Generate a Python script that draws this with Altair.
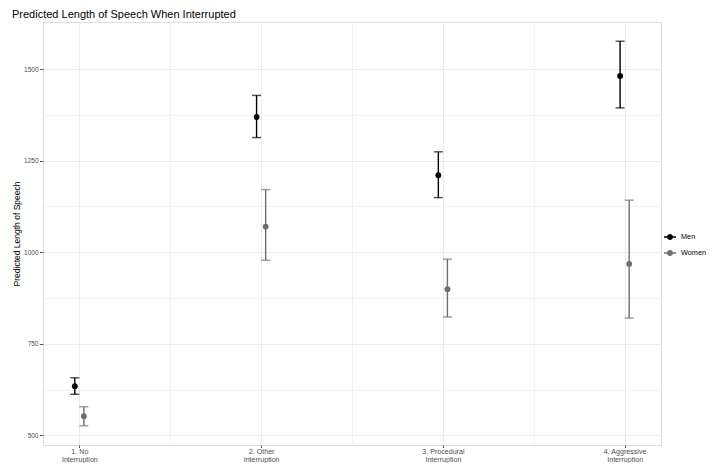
import json
import altair as alt
import pandas as pd

# ---- data ----
categories = ["1. No Interruption", "2. Other Interruption",
              "3. Procedural Interruption", "4. Aggressive Interruption"]
groups = ["Men", "Women"]
group_colors = ["#000000", "#6e6e6e"]

men_est = [634, 1369, 1210, 1481]
men_lo = [612, 1313, 1149, 1394]
men_hi = [657, 1428, 1274, 1576]

women_est = [552, 1070, 899, 968]
women_lo = [526, 978, 823, 820]
women_hi = [578, 1171, 981, 1142]

rows = []
for i, c in enumerate(categories):
    rows.append(dict(idx=i + 1, category=c, group="Men",
                     est=men_est[i], lo=men_lo[i], hi=men_hi[i]))
    rows.append(dict(idx=i + 1, category=c, group="Women",
                     est=women_est[i], lo=women_lo[i], hi=women_hi[i]))
df = pd.DataFrame(rows)

label_lines = [c.rsplit(" ", 1) for c in categories]
x_values = [1, 1.5, 2, 2.5, 3, 3.5, 4]
y_values = list(range(500, 1501, 125))

FONT = "Liberation Sans"
PLOT_W, PLOT_H = 618, 423

x_axis = alt.Axis(
    values=x_values,
    labelExpr="datum.value % 1 == 0 ? " + json.dumps(label_lines) + "[datum.value - 1] : ''",
    labelFontSize=7.1, labelColor="#4d4d4d", labelFont=FONT,
    labelLineHeight=7.8, labelPadding=0.3, labelOverlap=False, labelFlush=False,
    labelBound=False,
    tickSize=2.5, tickColor="#555555", tickWidth=1,
    tickOpacity={"condition": {"test": "datum.value % 1 != 0", "value": 0}, "value": 1},
    gridColor="#ebebeb",
    gridWidth={"condition": {"test": "datum.value % 1 != 0", "value": 0.6}, "value": 1},
    domain=False, title=None,
)

y_axis = alt.Axis(
    values=y_values,
    labelExpr="datum.value % 250 == 0 ? format(datum.value, 'd') : ''",
    labelFontSize=6.5, labelColor="#4d4d4d", labelFont=FONT, labelPadding=1.5,
    labelOverlap=False, labelFlush=False,
    tickSize=3.5, tickColor="#555555", tickWidth=1,
    tickOpacity={"condition": {"test": "datum.value % 250 != 0", "value": 0}, "value": 1},
    gridColor="#ebebeb",
    gridWidth={"condition": {"test": "datum.value % 250 != 0", "value": 0.6}, "value": 1},
    domain=False,
    title="Predicted Length of Speech", titleFont=FONT, titleFontSize=8.5,
    titleFontWeight="normal", titleColor="#000000",
    titleX=-27, titleY=PLOT_H / 2, titleAngle=270, titleAlign="center",
    titleBaseline="middle",
)

x_scale = alt.Scale(domain=[0.8, 4.2], nice=False, zero=False)
y_scale = alt.Scale(domain=[473.5, 1628.5], nice=False, zero=False)
color_scale = alt.Scale(domain=groups, range=group_colors)

X = alt.X("xpos:Q", scale=x_scale, axis=x_axis)

legend = alt.Legend(
    title=None, orient="none", legendX=621, legendY=209,
    symbolType="M-1,-0.12L1,-0.12L1,0.12L-1,0.12Z"
               "M-0.5,0A0.5,0.5,0,1,1,0.5,0A0.5,0.5,0,1,1,-0.5,0Z",
    symbolSize=144, symbolStrokeWidth=0, symbolOpacity=1,
    labelFontSize=7.3, labelFont=FONT, labelColor="#000000", labelOffset=5,
    rowPadding=6, padding=0,
)
COLOR = alt.Color("group:N", scale=color_scale, legend=legend)

base = alt.Chart(df).transform_calculate(
    xpos="datum.idx + (datum.group === 'Men' ? -0.025 : 0.025)"
)

rules = base.mark_rule(strokeWidth=1.4).encode(
    x=X,
    y=alt.Y("lo:Q", scale=y_scale, axis=y_axis),
    y2="hi:Q",
    color=COLOR,
)

caps_lo = base.mark_tick(orient="horizontal", size=9, thickness=1.4).encode(
    x=X,
    y=alt.Y("lo:Q", scale=y_scale, axis=y_axis),
    color=COLOR,
)

caps_hi = base.mark_tick(orient="horizontal", size=9, thickness=1.4).encode(
    x=X,
    y=alt.Y("hi:Q", scale=y_scale, axis=y_axis),
    color=COLOR,
)

points = base.mark_circle(size=34, opacity=1).encode(
    x=X,
    y=alt.Y("est:Q", scale=y_scale, axis=y_axis),
    color=COLOR,
)

chart = alt.layer(points, rules, caps_lo, caps_hi).properties(
    width=PLOT_W, height=PLOT_H,
    title=alt.TitleParams(
        "Predicted Length of Speech When Interrupted", anchor="start",
        fontSize=11, fontWeight="normal", color="#000000", font=FONT,
        offset=5, baseline="alphabetic", dy=12,
    ),
    autosize=alt.AutoSizeParams(type="none"),
    padding={"left": 35, "top": 14, "right": 47, "bottom": 18},
).configure_view(
    stroke="#8a8a8a", strokeWidth=1
).configure(font=FONT)

chart.save("out.html", embed_options={"renderer": "svg", "actions": False})
